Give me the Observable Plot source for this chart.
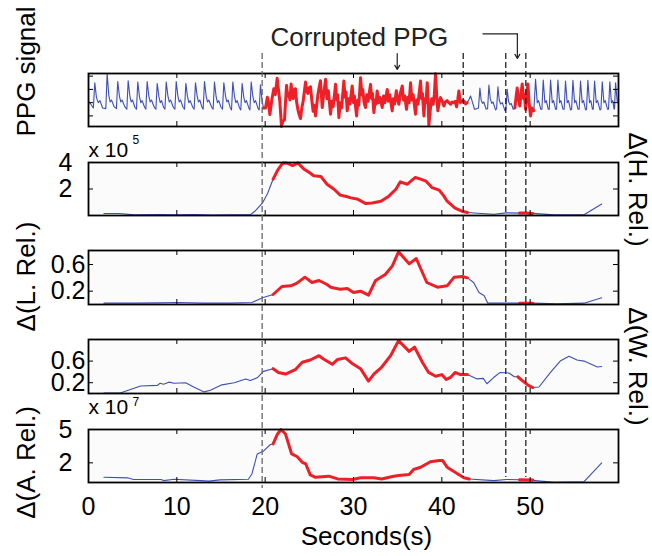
<!DOCTYPE html>
<html><head><meta charset="utf-8">
<script src="https://cdn.jsdelivr.net/npm/d3@7"></script>
<script src="https://cdn.jsdelivr.net/npm/@observablehq/plot@0.6"></script>
<style>
body{margin:0;background:#fff}
#chart{position:relative;width:652px;height:556px;background:#fff}
#chart svg{position:absolute;left:0;top:0}
</style>
</head><body><div id="chart"></div>
<script>
// ---------------- DATA ----------------
const xTicks = [0, 10, 20, 30, 40, 50];
const corruptionEdgeStart = [19.66];
const corruptionEdges = [42.42, 47.24, 49.51];
const annotationText = "Corrupted PPG";
const xLabel = "Seconds(s)";
const leftLabels = ["PPG signal", "Δ(L. Rel.)", "Δ(A. Rel.)"];
const rightLabels = ["Δ(H. Rel.)", "Δ(W. Rel.)"];
const exponentBase = "x 10";
const exponentH = "5";
const exponentA = "7";

// PPG signal (arbitrary units)
const ppgBlue1 = [[0,1.1],[0.25,0.9],[0.55,0.6],[0.71,2.5],[0.9,1.4],[1.1,1.0],[1.3,1.15],[1.6,0.6],[1.96,0.55],[2.11,3.2],[2.3,1.55],[2.45,1.05],[2.6,1.2],[2.9,0.7],[3.16,0.55],[3.31,2.6],[3.5,1.5],[3.65,1.05],[3.8,1.2],[4.1,0.7],[4.34,0.5],[4.49,2.65],[4.68,1.5],[4.83,1.05],[4.98,1.2],[5.25,0.65],[5.43,0.5],[5.58,2.55],[5.77,1.45],[5.92,1.0],[6.07,1.15],[6.35,0.65],[6.49,0.5],[6.64,2.6],[6.83,1.5],[6.98,1.05],[7.13,1.2],[7.45,0.65],[7.63,0.5],[7.78,2.45],[7.97,1.45],[8.12,1.0],[8.27,1.15],[8.5,0.65],[8.65,0.5],[8.8,2.55],[8.99,1.5],[9.14,1.05],[9.29,1.2],[9.6,0.65],[9.78,0.5],[9.93,2.6],[10.12,1.5],[10.27,1.05],[10.42,1.2],[10.7,0.65],[10.87,0.5],[11.02,2.45],[11.21,1.45],[11.36,1.0],[11.51,1.15],[11.8,0.65],[11.96,0.5],[12.11,2.5],[12.3,1.5],[12.45,1.05],[12.6,1.2],[12.85,0.65],[12.98,0.5],[13.13,2.6],[13.32,1.5],[13.47,1.05],[13.62,1.2],[13.95,0.65],[14.11,0.5],[14.26,2.55],[14.45,1.45],[14.6,1.0],[14.75,1.15],[15.0,0.65],[15.17,0.5],[15.32,2.5],[15.51,1.5],[15.66,1.05],[15.81,1.2],[16.05,0.6],[16.19,0.45],[16.34,2.55],[16.53,1.45],[16.68,1.0],[16.83,1.15],[17.1,0.6],[17.24,0.45],[17.39,2.45],[17.58,1.4],[17.73,1.0],[17.88,1.15],[18.15,0.6],[18.27,0.45],[18.42,2.55],[18.61,1.45],[18.76,1.0],[18.91,1.15],[19.2,0.55],[19.32,0.45],[19.47,2.35],[19.62,1.3],[19.8,0.6]];
const ppgRed1 = [[19.8,0.6],[20.04,0.6],[20.25,1.4],[20.4,0.9],[20.53,0.1],[20.75,1.2],[20.98,2.05],[21.15,1.6],[21.36,2.85],[21.5,2.0],[21.66,1.1],[21.85,-0.8],[22.0,-0.4],[22.19,-0.3],[22.3,1.0],[22.42,2.3],[22.55,1.5],[22.68,1.7],[22.8,1.2],[22.94,2.4],[23.05,1.6],[23.17,1.3],[23.3,2.0],[23.43,2.05],[23.55,1.1],[23.7,0.5],[23.85,0.1],[24.0,-0.2],[24.15,0.6],[24.3,1.1],[24.45,1.9],[24.57,2.55],[24.7,1.9],[24.83,1.7],[24.95,2.1],[25.13,2.2],[25.28,1.2],[25.43,0.35],[25.55,0.8],[25.7,0.0],[25.85,0.9],[25.96,1.55],[26.1,2.1],[26.26,2.65],[26.46,0.63],[26.6,1.5],[26.84,2.76],[27.0,1.3],[27.15,1.9],[27.4,0.13],[27.55,1.1],[27.7,0.7],[27.97,2.38],[28.1,1.2],[28.2,1.6],[28.35,-0.13],[28.5,1.0],[28.65,0.6],[28.91,2.63],[29.05,1.4],[29.15,1.8],[29.29,0.38],[29.45,1.3],[29.6,0.9],[29.85,2.26],[30.0,1.0],[30.1,1.5],[30.35,0.0],[30.5,1.2],[30.6,0.8],[30.8,2.88],[30.95,1.6],[31.05,2.0],[31.2,1.0],[31.36,0.63],[31.5,1.6],[31.65,1.1],[31.93,2.38],[32.05,1.3],[32.15,1.7],[32.31,0.25],[32.45,1.2],[32.55,0.9],[32.68,1.88],[32.85,1.0],[33.0,1.4],[33.25,0.63],[33.4,1.5],[33.55,1.0],[33.82,2.0],[33.95,1.1],[34.1,1.6],[34.38,0.38],[34.5,1.3],[34.65,0.9],[34.85,1.9],[35.0,1.2],[35.14,0.88],[35.3,1.7],[35.52,2.26],[35.65,1.2],[35.8,1.5],[36.0,0.5],[36.15,1.4],[36.3,1.0],[36.46,2.5],[36.6,1.2],[36.75,1.6],[37.02,0.13],[37.15,1.2],[37.3,0.9],[37.59,2.63],[37.7,1.3],[37.8,1.7],[37.97,0.0],[38.1,1.3],[38.2,1.0],[38.35,2.5],[38.45,1.2],[38.53,-0.7],[38.7,0.5],[38.85,1.3],[39.02,0.88],[39.15,1.6],[39.29,3.18],[39.42,1.5],[39.55,0.38],[39.7,1.0],[39.85,1.38],[40.05,1.1],[40.23,0.75],[40.4,1.05],[40.6,1.15],[40.8,1.0],[40.99,0.88],[41.15,1.05],[41.3,1.0],[41.5,1.1],[41.67,0.68],[41.8,1.2],[41.93,1.88],[42.05,1.3],[42.12,1.0],[42.3,1.15],[42.5,1.13],[42.7,0.9],[42.87,1.0]];
const ppgBlue2 = [[42.87,1.0],[43.05,1.2],[43.25,1.5],[43.44,1.1],[43.7,0.5],[44.0,0.55],[44.15,0.6],[44.31,2.1],[44.45,1.2],[44.6,0.95],[44.75,1.05],[45.02,0.5],[45.18,0.55],[45.33,2.33],[45.48,1.3],[45.65,0.95],[45.8,1.05],[46.08,0.45],[46.2,0.55],[46.35,2.2],[46.5,1.2],[46.65,0.9],[46.85,1.0],[47.14,0.4],[47.25,0.5],[47.4,2.0],[47.55,1.1],[47.7,0.85],[47.85,0.95],[48.08,0.5],[48.27,0.6]];
const ppgRed2 = [[48.27,0.6],[48.4,1.4],[48.53,2.1],[48.68,1.2],[48.83,0.75],[48.95,1.6],[49.1,2.4],[49.25,1.3],[49.35,1.6],[49.48,0.5],[49.6,1.5],[49.74,2.4],[49.88,1.0],[50.04,0.0],[50.2,0.6],[50.42,0.4]];
const ppgBlue3 = [[50.42,0.4],[50.61,2.76],[50.8,1.0],[50.95,1.15],[51.2,0.5],[51.33,0.5],[51.48,2.7],[51.67,1.0],[51.82,1.15],[52.05,0.5],[52.16,0.5],[52.31,2.7],[52.5,1.0],[52.65,1.15],[52.88,0.5],[52.99,0.5],[53.14,2.7],[53.33,1.0],[53.48,1.15],[53.72,0.5],[53.85,0.5],[54.0,2.63],[54.19,1.0],[54.34,1.15],[54.57,0.45],[54.69,0.5],[54.84,2.68],[55.03,1.0],[55.18,1.15],[55.42,0.5],[55.55,0.5],[55.7,2.63],[55.89,1.0],[56.04,1.15],[56.27,0.45],[56.38,0.5],[56.53,2.68],[56.72,1.0],[56.87,1.15],[57.05,0.5],[57.14,0.5],[57.29,2.63],[57.48,1.0],[57.63,1.15],[57.9,0.45],[58.01,0.5],[58.16,2.58],[58.35,1.0],[58.5,1.15],[58.76,0.5],[58.87,0.5],[59.02,2.58],[59.2,1.0],[59.35,1.15],[59.5,0.5],[59.55,0.55],[59.67,2.5],[59.85,1.1],[60.0,1.0]];

// Δ(H. Rel.)  (x 10^5)
const hBlue1 = [[1.75,0.15],[3.5,0.15],[5.2,0.05],[8,0.08],[10,0.05],[12,0.07],[14,0.04],[16,0.06],[18.3,0.05],[18.8,0.3],[19.7,0.95],[20.3,1.7],[20.9,2.75]];
const hRed1 = [[20.9,2.75],[21.4,3.4],[22.0,3.97],[22.5,3.95],[23.1,3.77],[23.7,3.97],[24.4,3.5],[25.0,3.25],[25.5,3.0],[26.3,2.95],[27.0,2.36],[27.8,1.98],[28.5,1.54],[29.1,1.45],[29.7,1.33],[30.4,1.25],[31.4,0.9],[32.1,0.95],[33.1,1.08],[34.0,1.46],[34.8,1.98],[35.3,2.54],[36.1,2.36],[37.0,2.87],[37.6,2.75],[38.2,2.6],[38.9,2.1],[39.7,1.92],[40.2,1.5],[40.6,1.08],[41.5,0.56],[42.4,0.3],[42.9,0.23]];
const hBlue2 = [[42.9,0.23],[44.5,0.15],[45.9,0.1],[47.3,0.2],[48.8,0.18]];
const hRed2 = [[48.8,0.18],[49.5,0.18],[50.3,0.16]];
const hBlue3 = [[50.3,0.16],[52.7,0.05],[56.1,0.05],[58.1,0.87]];

// Δ(L. Rel.)
const lBlue1 = [[1.75,0.02],[5,0.02],[8,0.025],[10,0.03],[13,0.02],[16,0.02],[18.5,0.03],[19.7,0.1],[20.9,0.15]];
const lRed1 = [[20.9,0.15],[21.9,0.27],[22.9,0.28],[23.6,0.32],[24.5,0.41],[25.3,0.33],[26.1,0.36],[27.0,0.3],[27.4,0.26],[28.5,0.23],[29.3,0.24],[30.0,0.18],[30.8,0.2],[31.7,0.14],[32.5,0.36],[33.6,0.45],[34.4,0.58],[35.1,0.79],[36.3,0.61],[37.1,0.69],[38.3,0.33],[39.5,0.26],[40.6,0.28],[41.4,0.41],[42.3,0.42],[42.9,0.40]];
const lBlue2 = [[42.9,0.40],[43.6,0.33],[44.2,0.18],[44.8,0.13],[45.2,0.02],[48.8,0.02]];
const lRed2 = [[48.8,0.02],[50.3,0.02]];
const lBlue3 = [[50.3,0.02],[53,0.01],[56.1,0.02],[58.1,0.1]];

// Δ(W. Rel.)
const wBlue1 = [[1.75,0.01],[3.6,0.01],[5.9,0.14],[7.8,0.15],[8.1,0.19],[8.5,0.17],[9.1,0.21],[9.7,0.19],[11.0,0.2],[11.9,0.12],[13.1,0.03],[13.8,0.06],[15.1,0.16],[16.5,0.2],[17.8,0.27],[18.3,0.24],[19.1,0.29],[19.8,0.41],[20.9,0.46]];
const wRed1 = [[20.9,0.46],[21.5,0.39],[22.3,0.36],[23.4,0.44],[24.2,0.58],[25.1,0.62],[26.1,0.70],[26.6,0.64],[27.6,0.54],[28.2,0.63],[29.1,0.66],[29.9,0.55],[30.8,0.46],[31.7,0.23],[32.3,0.36],[33.2,0.49],[34.2,0.70],[35.1,0.98],[36.3,0.78],[36.9,0.86],[37.8,0.58],[38.5,0.39],[39.3,0.32],[40.0,0.35],[40.5,0.26],[41.0,0.30],[41.5,0.39],[42.1,0.35],[42.9,0.35]];
const wBlue2 = [[42.9,0.35],[44.0,0.27],[44.7,0.28],[45.1,0.18],[45.9,0.30],[46.6,0.39],[47.6,0.38],[48.2,0.31],[48.6,0.31]];
const wRed2 = [[48.6,0.31],[49.1,0.24],[49.8,0.15],[50.3,0.11]];
const wBlue3 = [[50.3,0.11],[51.0,0.12],[52.3,0.39],[53.4,0.6],[54.4,0.69],[55.3,0.62],[56.1,0.6],[57.6,0.49],[58.1,0.5]];

// Δ(A. Rel.)  (x 10^7)
const aBlue1 = [[1.75,0.7],[4.4,0.65],[5.1,0.5],[8.2,0.5],[8.5,0.4],[9.7,0.52],[12.7,0.4],[13.6,0.35],[14.9,0.47],[18.1,0.52],[18.5,1.0],[19.1,2.8],[19.8,3.05],[20.6,3.65],[20.9,3.7]];
const aRed1 = [[20.9,3.7],[21.4,4.6],[21.8,5.0],[22.3,4.6],[23.0,2.8],[23.6,2.57],[24.2,2.05],[24.6,1.9],[25.1,0.92],[25.7,0.7],[27.2,0.8],[28.2,0.55],[29.9,0.5],[30.8,0.65],[32.3,0.65],[33.2,0.55],[34.4,0.77],[35.1,0.86],[36.3,0.95],[36.8,1.4],[37.6,1.6],[38.7,2.1],[39.7,2.2],[40.1,2.2],[40.6,1.6],[41.5,1.15],[42.5,0.65],[43.1,0.55]];
const aBlue2 = [[43.1,0.55],[45.9,0.4],[47.3,0.5],[48.8,0.48]];
const aRed2 = [[48.8,0.48],[50.3,0.45]];
const aBlue3 = [[50.3,0.42],[52.7,0.25],[56.1,0.3],[58.1,2.0]];

// y scales and tick values
const ppgDomain = [-0.8, 3.2], ppgTicks = [0, 1, 2, 3];
const hDomain = [0, 4], hTicks = [2, 4];
const lDomain = [0, 0.81], lTicks = [0.2, 0.6];
const wDomain = [0, 1], wTicks = [0.2, 0.6];
const aDomain = [0.23, 5], aTicks = [2, 5];

// ---------------- LAYOUT / STYLE ----------------
const W = 652, H = 556, ML = 88, MR = 34;
const BLUE = "#3d4fb6", RED = "#ee1f26";
const FONT = "'Liberation Sans', Arial, Helvetica, sans-serif";
const baseStyle = {background: "transparent", overflow: "visible", fontFamily: FONT, fontSize: "25px", color: "#000"};

function rowsOf(list, kind, id) {
  return list.map(([t, v]) => ({t, v, kind, id}));
}

function panel({top, bottom, domain, ticks, labels, labelPad, segs, xLabels}) {
  const fh = bottom - top, fw = W - ML - MR;
  const rows = segs.flatMap(([list, kind], i) => rowsOf(list, kind, i));
  const marks = [
    Plot.frame({fill: "#fbfbfb", stroke: "none"}),
    Plot.line(rows.filter(d => d.kind === "b"), {x: "t", y: "v", z: "id", stroke: BLUE, strokeWidth: 1.1}),
    Plot.line(rows.filter(d => d.kind === "r"), {x: "t", y: "v", z: "id", stroke: RED, strokeWidth: 3, strokeLinejoin: "round"}),
    Plot.frame({stroke: "#000", strokeWidth: 1.8}),
    Plot.tickX(xTicks.filter(d => d > 0), {x: d => d, insetTop: fh - 5, stroke: "#000"}),
    Plot.tickX(xTicks.filter(d => d > 0), {x: d => d, insetBottom: fh - 5, stroke: "#000"}),
    Plot.tickY(ticks, {y: d => d, insetRight: fw - 5, stroke: "#000"}),
    Plot.tickY(ticks, {y: d => d, insetLeft: fw - 5, stroke: "#000"})
  ];
  if (labels) marks.push(Plot.axisY(ticks, {anchor: "left", tickSize: 0, tickPadding: labelPad, label: null}));
  if (xLabels) marks.push(Plot.axisX(xTicks, {anchor: "bottom", tickSize: 0, tickPadding: 15, label: null}));
  return Plot.plot({
    width: W, height: H, marginLeft: ML, marginRight: MR, marginTop: top, marginBottom: H - bottom,
    x: xLabels ? {domain: [0, 60]} : {domain: [0, 60], axis: null},
    y: labels ? {domain} : {domain, axis: null},
    style: baseStyle,
    marks
  });
}

const chart = document.getElementById("chart");
chart.append(panel({top: 73, bottom: 126, domain: ppgDomain, ticks: ppgTicks, labels: false,
  segs: [[ppgBlue1, "b"], [ppgRed1, "r"], [ppgBlue2, "b"], [ppgRed2, "r"], [ppgBlue3, "b"]]}));
chart.append(panel({top: 162, bottom: 215, domain: hDomain, ticks: hTicks, labels: true, labelPad: 16,
  segs: [[hBlue1, "b"], [hRed1, "r"], [hBlue2, "b"], [hRed2, "r"], [hBlue3, "b"]]}));
chart.append(panel({top: 250, bottom: 304, domain: lDomain, ticks: lTicks, labels: true, labelPad: 3,
  segs: [[lBlue1, "b"], [lRed1, "r"], [lBlue2, "b"], [lRed2, "r"], [lBlue3, "b"]]}));
chart.append(panel({top: 339, bottom: 393, domain: wDomain, ticks: wTicks, labels: true, labelPad: 3,
  segs: [[wBlue1, "b"], [wRed1, "r"], [wBlue2, "b"], [wRed2, "r"], [wBlue3, "b"]]}));
chart.append(panel({top: 429, bottom: 482, domain: aDomain, ticks: aTicks, labels: true, labelPad: 16, xLabels: true,
  segs: [[aBlue1, "b"], [aRed1, "r"], [aBlue2, "b"], [aRed2, "r"], [aBlue3, "b"]]}));

// overlay: dashed event lines, annotations, axis titles (y in pixel space)
const leftY = [71, 276, 462], rightY = [189, 366];
chart.append(Plot.plot({
  width: W, height: H, marginLeft: ML, marginRight: MR, marginTop: 0, marginBottom: 0,
  x: {domain: [0, 60], axis: null},
  y: {domain: [0, H], range: [0, H], axis: null},
  style: baseStyle,
  marks: [
    Plot.ruleX(corruptionEdgeStart, {x: d => d, y1: 53, y2: 488, stroke: "#666", strokeWidth: 1.3, strokeDasharray: "6,3"}),
    Plot.ruleX(corruptionEdges, {x: d => d, y1: 53, y2: 477, stroke: "#111", strokeWidth: 1.2, strokeDasharray: "6,3"}),
    Plot.text([annotationText], {x: () => 20.6, y: () => 45, textAnchor: "start", lineAnchor: "bottom", fontSize: 26, fill: "#222"}),
    Plot.arrow([{x1: 34.95, y1: 53, x2: 34.95, y2: 69}], {x1: "x1", y1: "y1", x2: "x2", y2: "y2", stroke: "#222", strokeWidth: 1.2, headLength: 6}),
    Plot.line([[44.65, 33.3], [48.55, 33.3]], {stroke: "#222", strokeWidth: 1.2}),
    Plot.arrow([{x1: 48.55, y1: 33.3, x2: 48.55, y2: 58}], {x1: "x1", y1: "y1", x2: "x2", y2: "y2", stroke: "#222", strokeWidth: 1.2, headLength: 6}),
    Plot.text(leftLabels, {text: d => d, y: (d, i) => leftY[i], frameAnchor: "left", dx: -54, rotate: -90, textAnchor: "middle", lineAnchor: "bottom", fontSize: 26}),
    Plot.text(rightLabels, {text: d => d, y: (d, i) => rightY[i], frameAnchor: "right", dx: 10, rotate: 90, textAnchor: "middle", lineAnchor: "bottom", fontSize: 26}),
    Plot.text([exponentBase, exponentBase], {text: d => d, y: (d, i) => [156, 413][i], frameAnchor: "left", dx: 0, textAnchor: "start", lineAnchor: "bottom", fontSize: 21}),
    Plot.text([exponentH, exponentA], {text: d => d, y: (d, i) => [143, 405][i], frameAnchor: "left", dx: 44, textAnchor: "start", lineAnchor: "bottom", fontSize: 12}),
    Plot.text([xLabel], {text: d => d, y: () => 544, frameAnchor: "bottom", dx: 13, textAnchor: "middle", lineAnchor: "bottom", fontSize: 26})
  ]
}));
</script></body></html>
